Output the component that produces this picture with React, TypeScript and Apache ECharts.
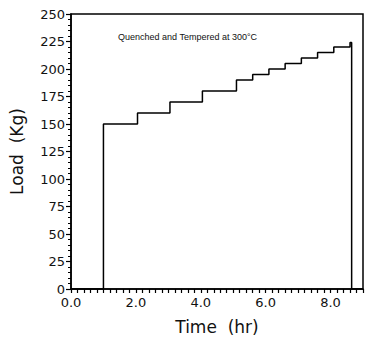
import React, { useEffect, useRef } from "react";
import * as echarts from "echarts";

const stepTimes = [1.0, 2.05, 3.05, 4.05, 5.1, 5.6, 6.1, 6.6, 7.1, 7.6, 8.1, 8.6];
const stepLoads = [150, 160, 170, 180, 190, 195, 200, 205, 210, 215, 220, 224];
const startTime = 0;
const endTime = 8.65;
const axisEnd = 9;
const xTickLabels = ["0.0", "2.0", "4.0", "6.0", "8.0"];
const titleText = "Quenched and Tempered at 300°C";

function buildPath(): number[][] {
  const pts: number[][] = [[startTime, 0]];
  let prev = 0;
  stepTimes.forEach((t, i) => {
    pts.push([t, prev]);
    pts.push([t, stepLoads[i]]);
    prev = stepLoads[i];
  });
  pts.push([endTime, prev]);
  pts.push([endTime, 0]);
  pts.push([axisEnd, 0]);
  return pts;
}

export default function App() {
  const ref = useRef<HTMLDivElement>(null);
  useEffect(() => {
    if (!ref.current) return;
    const chart = echarts.init(ref.current, null, { renderer: "svg" });
    const font = "DejaVu Sans";
    chart.setOption({
      animation: false,
      backgroundColor: "#fff",
      grid: {
        left: 64,
        right: 8,
        top: 14,
        bottom: 45,
        show: true,
        borderColor: "#000",
        borderWidth: 1.5,
        backgroundColor: "transparent",
      },
      graphic: [
        {
          type: "text",
          left: 118,
          top: 32,
          style: {
            text: titleText,
            fontFamily: "Liberation Sans",
            fontSize: 9,
            fill: "#111",
          },
        },
      ],
      xAxis: {
        type: "value",
        min: 0,
        max: axisEnd,
        interval: 0.2,
        name: "Time  (hr)",
        nameLocation: "middle",
        nameGap: 29,
        nameTextStyle: { fontFamily: font, fontSize: 17, color: "#111" },
        axisLine: { show: true, lineStyle: { color: "#000", width: 1.5 } },
        axisTick: { show: true, inside: false, length: 4, interval: 0, lineStyle: { color: "#000", width: 1.2 } },
        splitLine: { show: false },
        axisLabel: {
          interval: 0,
          margin: 7,
          fontFamily: font,
          fontSize: 13,
          lineHeight: 12,
          color: "#111",
          formatter: (v: number) => {
            const k = v / 2;
            if (Math.abs(k - Math.round(k)) < 1e-6) {
              const idx = Math.round(k);
              return xTickLabels[idx] ?? "";
            }
            return "";
          },
        },
      },
      yAxis: {
        type: "value",
        min: 0,
        max: 250,
        interval: 25,
        name: "Load  (Kg)",
        nameLocation: "middle",
        nameGap: 46,
        nameTextStyle: { fontFamily: font, fontSize: 17, color: "#111" },
        axisLine: { show: true, lineStyle: { color: "#000", width: 1.5 } },
        axisTick: { show: true, inside: false, length: 5, lineStyle: { color: "#000", width: 1.2 } },
        minorTick: { show: true, splitNumber: 5, length: 3, lineStyle: { color: "#000", width: 1 } },
        splitLine: { show: false },
        axisLabel: { margin: 6, fontFamily: font, fontSize: 13, lineHeight: 11, color: "#111" },
      },
      series: [
        {
          type: "line",
          data: buildPath(),
          showSymbol: false,
          symbol: "none",
          lineStyle: { color: "#000", width: 1.5 },
        },
      ],
    });
    return () => chart.dispose();
  }, []);
  return <div ref={ref} style={{ width: 371, height: 340, position: "absolute", left: 0, top: 0 }} />;
}
